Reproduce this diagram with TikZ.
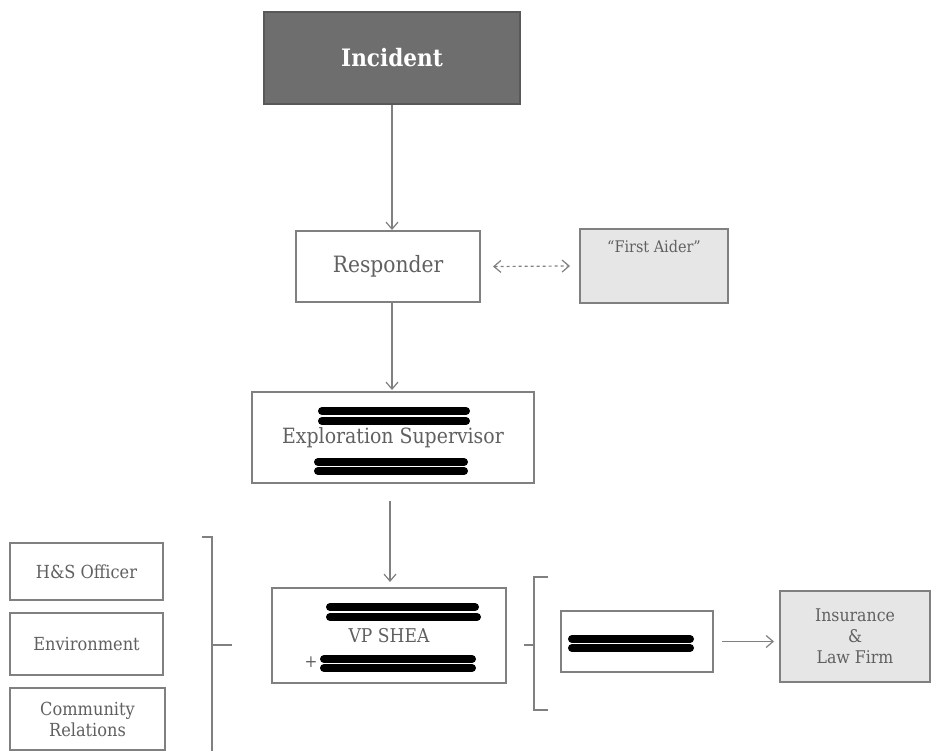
\documentclass[tikz,border=0pt]{standalone}
\usepackage{fontspec}
\setmainfont{DejaVu Serif Condensed}
\usetikzlibrary{arrows.meta}
\definecolor{boxline}{HTML}{808080}
\definecolor{inktext}{HTML}{606060}
\definecolor{darkfill}{HTML}{6E6E6E}
\definecolor{lightfill}{HTML}{E6E6E6}
\tikzset{
  box/.style={draw=boxline, line width=2pt, text=inktext, align=center, inner sep=2pt},
  darkbox/.style={box, fill=darkfill, draw=darkfill!80!black, text=white, font=\bfseries\fontsize{24}{28}\selectfont},
  shadebox/.style={box, fill=lightfill},
  link/.style={draw=boxline, line width=1.2pt, -{Straight Barb[length=7pt,width=12pt]}},
  bracket/.style={draw=boxline, line width=1.4pt},
  redact/.style={draw=black, line width=8pt, line cap=round},
}
\begin{document}
\begin{tikzpicture}[x=1pt,y=-1pt]
\useasboundingbox (0,0) rectangle (932,751);
\fill[white] (0,0) rectangle (932,751);

% chain of command
\node[darkbox, minimum width=256, minimum height=92] (inc) at (392,58) {Incident};
\node[box, minimum width=184, minimum height=71, font=\fontsize{22.5}{26}\selectfont] (resp) at (388,266.5) {Responder};
\node[shadebox, minimum width=148, minimum height=74] (aid) at (654,266) {};
\node[anchor=north, text=inktext, font=\fontsize{16}{19}\selectfont, inner sep=0pt] (aidtxt) at ([yshift=-12pt]aid.north) {“First Aider”};
\node[box, minimum width=282, minimum height=91, font=\fontsize{21}{24}\selectfont] (expl) at (393,437.5) {Exploration Supervisor};
\node[box, minimum width=234, minimum height=95, font=\fontsize{19}{22}\selectfont] (vp) at (389,635.5) {VP SHEA};
\node[box, minimum width=152, minimum height=61] (mid) at (637,641.5) {};
\node[shadebox, minimum width=150, minimum height=91, font=\fontsize{17.5}{20}\selectfont] (ins) at (855,636.5) {Insurance\\[1pt]\&\\[1pt]Law Firm};

% support functions
\node[box, minimum width=153, minimum height=57, font=\fontsize{18}{21}\selectfont] (hs) at (86.5,571.5) {H\&S Officer};
\node[box, minimum width=153, minimum height=62, font=\fontsize{18}{21}\selectfont] (env) at (86.5,644) {Environment};
\node[box, minimum width=155, minimum height=62, font=\fontsize{18}{21}\selectfont] (com) at (87.5,719) {Community\\Relations};

% blacked-out names
\draw[redact] (322,411) -- (466,411);
\draw[redact] (322,421) -- (466,421);
\draw[redact] (318,462) -- (464,462);
\draw[redact] (318,471) -- (464,471);
\draw[redact] (330,607) -- (475,607);
\draw[redact] (330,617) -- (477,617);
\draw[redact] (324,659) -- (472,659);
\draw[redact] (324,668) -- (472,668);
\node[text=inktext, font=\fontsize{17}{20}\selectfont, inner sep=0pt] (plus) at (311,662) {+};
\draw[redact] (572,639) -- (690,639);
\draw[redact] (572,648) -- (690,648);

% connectors
\draw[link] (inc.south -| 392,0) -- (392,230);
\draw[link] (resp.south -| 392,0) -- (392,390);
\draw[link] ([yshift=-17pt]expl.south -| 390,0) -- (390,582);
\draw[link, dashed, {Straight Barb[length=7pt,width=12pt]}-{Straight Barb[length=7pt,width=12pt]}] ([xshift=12pt]resp.east) -- ([xshift=-9pt]aid.west);
\draw[link] ([xshift=8pt]mid.east) -- ([xshift=-5pt]mid.east -| ins.west);

% brackets
\draw[bracket] (202,537) -- (212,537) -- (212,751);
\draw[bracket] (212,645) -- (232,645);
\draw[bracket] (548,577) -- (534,577) -- (534,710) -- (548,710);
\draw[bracket] (524,645) -- (534,645);
\end{tikzpicture}
\end{document}
